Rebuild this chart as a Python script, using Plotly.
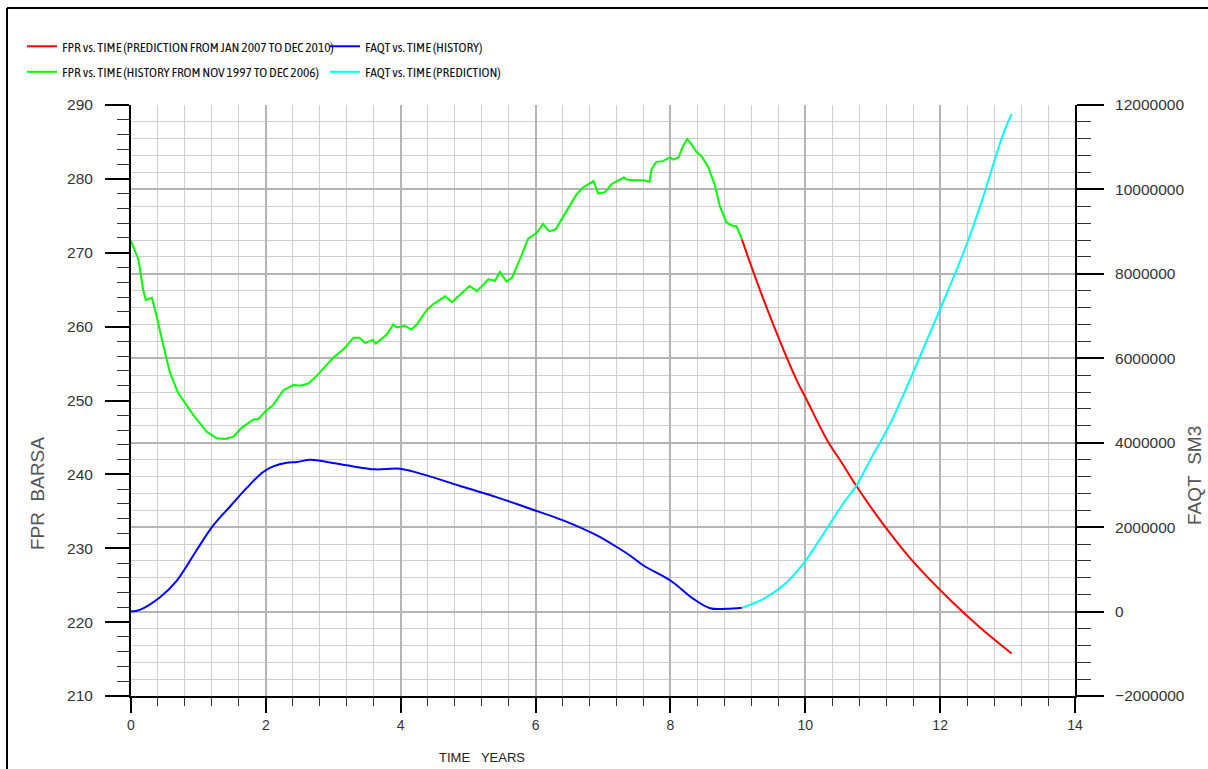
import plotly.graph_objects as go

# ---------------- data ----------------
t_fpr_hist = [0.0, 0.11, 0.18, 0.22, 0.31, 0.38, 0.48, 0.58, 0.70, 0.92, 1.12, 1.27, 1.39, 1.52, 1.64,
              1.81, 1.89, 1.99, 2.11, 2.26, 2.41, 2.51, 2.63, 2.75, 3.00, 3.17, 3.30, 3.39, 3.47, 3.59,
              3.63, 3.79, 3.89, 3.94, 4.06, 4.16, 4.24, 4.39, 4.49, 4.66, 4.76, 4.93, 5.02, 5.13, 5.30,
              5.40, 5.47, 5.57, 5.65, 5.79, 5.89, 6.02, 6.11, 6.20, 6.30, 6.45, 6.60, 6.70, 6.80, 6.86,
              6.93, 7.03, 7.13, 7.31, 7.35, 7.45, 7.60, 7.69, 7.72, 7.79, 7.89, 7.99, 8.04, 8.12, 8.19,
              8.25, 8.31, 8.39, 8.46, 8.56, 8.66, 8.73, 8.83, 8.91, 8.98, 9.06]
fpr_hist = [271.6, 269.1, 265.0, 263.6, 263.9, 261.4, 257.4, 253.7, 251.0, 248.1, 245.8, 244.9, 244.8,
            245.1, 246.3, 247.4, 247.5, 248.5, 249.4, 251.4, 252.1, 252.0, 252.3, 253.3, 255.8, 257.1,
            258.5, 258.5, 257.8, 258.2, 257.7, 258.9, 260.3, 259.9, 260.1, 259.6, 260.3, 262.3, 263.1,
            264.1, 263.3, 264.8, 265.5, 264.8, 266.4, 266.2, 267.4, 266.1, 266.6, 269.6, 271.9, 272.7,
            273.9, 272.9, 273.2, 275.5, 277.8, 278.8, 279.3, 279.7, 278.0, 278.2, 279.3, 280.2, 279.9,
            279.8, 279.8, 279.6, 281.3, 282.3, 282.4, 282.9, 282.6, 282.9, 284.5, 285.4, 284.7, 283.6,
            283.1, 281.6, 279.1, 276.4, 274.1, 273.7, 273.6, 271.8]

t_fpr_pred = [9.06, 9.38, 9.87, 10.02, 10.32, 10.56, 10.76, 11.16, 11.58, 12.15, 12.6, 13.06]
fpr_pred = [271.8, 263.7, 252.8, 250.1, 244.7, 241.3, 238.4, 233.2, 228.4, 223.0, 219.2, 215.75]

t_faqt_hist = [0.0, 0.13, 0.43, 0.68, 0.97, 1.22, 1.47, 1.72, 1.96, 2.11, 2.31, 2.46, 2.65, 2.75, 3.20,
               3.62, 3.99, 4.43, 4.93, 5.42, 5.92, 6.41, 6.91, 7.10, 7.40, 7.60, 8.00, 8.34, 8.59, 8.83, 9.06]
faqt_hist = [0, 40000, 340000, 735000, 1447000, 2040000, 2490000, 2935000, 3305000, 3440000, 3527000,
             3543000, 3599000, 3582000, 3464000, 3369000, 3385000, 3203000, 2949000, 2712000, 2436000,
             2159000, 1803000, 1630000, 1329000, 1091000, 735000, 301000, 78000, 64000, 88000]

t_faqt_pred = [9.06, 9.38, 9.67, 9.97, 10.27, 10.56, 10.76, 10.96, 11.26, 11.55, 11.85, 12.15, 12.39,
               12.64, 12.81, 12.94, 13.06]
faqt_pred = [88000, 301000, 617000, 1132000, 1843000, 2555000, 2989000, 3582000, 4453000, 5480000,
             6600000, 7734000, 8683000, 9829000, 10702000, 11333000, 11791000]

names = ["FPR vs. TIME (PREDICTION FROM JAN 2007 TO DEC 2010)",
         "FPR vs. TIME (HISTORY FROM NOV 1997 TO DEC 2006)",
         "FAQT vs. TIME (HISTORY)",
         "FAQT vs. TIME (PREDICTION)"]

# ---------------- layout geometry ----------------
W, H = 1208, 769
L, R, T, B = 131, 133, 105, 73
PW, PH = W - L - R, H - T - B


def px(xp):
    return (xp - L) / PW


def py(yp):
    return (H - B - yp) / PH


NB = "\u00a0"
LEG_FONT = dict(family="Asap Condensed, Liberation Sans Narrow, Arial Narrow, sans-serif",
                size=13.5, color="#111111")
TICK_FONT = dict(family="Liberation Sans, Arial, sans-serif", size=15.5, color="#333333")

fig = go.Figure()
fig.add_trace(go.Scatter(x=t_fpr_pred, y=fpr_pred, name=names[0], mode="lines",
                         line=dict(color="#ff0000", width=2, shape="spline"),
                         legend="legend", legendgroup="a", legendrank=1))
fig.add_trace(go.Scatter(x=t_fpr_hist, y=fpr_hist, name=names[1], mode="lines",
                         line=dict(color="#00ff00", width=2),
                         legend="legend", legendgroup="b", legendrank=2))
fig.add_trace(go.Scatter(x=t_faqt_hist, y=faqt_hist, name=names[2], mode="lines", yaxis="y2",
                         line=dict(color="#0000ff", width=2, shape="spline"),
                         legend="legend2", legendgroup="c", legendrank=1))
fig.add_trace(go.Scatter(x=t_faqt_pred, y=faqt_pred, name=names[3], mode="lines", yaxis="y2",
                         line=dict(color="#00ffff", width=2, shape="spline"),
                         legend="legend2", legendgroup="d", legendrank=2))

fig.update_layout(
    width=W, height=H,
    margin=dict(l=L, r=R, t=T, b=B),
    paper_bgcolor="white", plot_bgcolor="white",
    showlegend=True,
    legend=dict(x=px(22), y=py(31), xanchor="left", yanchor="top", orientation="v",
                font=LEG_FONT, bgcolor="rgba(0,0,0,0)", tracegroupgap=5, traceorder="grouped"),
    legend2=dict(x=px(325), y=py(31), xanchor="left", yanchor="top", orientation="v",
                 font=LEG_FONT, bgcolor="rgba(0,0,0,0)", tracegroupgap=5, traceorder="grouped"),
    xaxis=dict(range=[0, 14], dtick=2, tick0=0, ticks="outside", ticklen=15, tickwidth=2,
               tickcolor="black", showline=True, linecolor="black", linewidth=2,
               showgrid=True, gridcolor="#b4b4b4", gridwidth=1.5, zeroline=False,
               tickfont=dict(family="Liberation Sans, Arial", size=14, color="#333333"),
               minor=dict(dtick=0.4, tick0=0, ticks="outside", ticklen=8, tickwidth=1,
                          tickcolor="#333333", showgrid=True, gridcolor="#cfcfcf", gridwidth=1)),
    yaxis=dict(range=[210, 290], dtick=10, ticks="outside", ticklen=24, tickwidth=2,
               tickcolor="black", showline=True, linecolor="black", linewidth=2,
               showgrid=False, zeroline=False, tickfont=TICK_FONT, ticklabelstandoff=9,
               minor=dict(dtick=2, ticks="outside", ticklen=12, tickwidth=1,
                          tickcolor="#333333", showgrid=False)),
    yaxis2=dict(range=[-2000000, 12000000], dtick=2000000, overlaying="y", side="right",
                tickformat="d", ticks="outside", ticklen=27, tickwidth=2, tickcolor="black",
                showline=True, linecolor="black", linewidth=2,
                showgrid=True, gridcolor="#b4b4b4", gridwidth=1.5, zeroline=False,
                tickfont=TICK_FONT, ticklabelstandoff=8,
                minor=dict(dtick=400000, ticks="outside", ticklen=14, tickwidth=1,
                           tickcolor="#333333", showgrid=True, gridcolor="#cfcfcf", gridwidth=1)),
)

fig.add_annotation(text="FPR" + NB * 2 + "BARSA", x=px(37), y=py(494), xref="paper", yref="paper",
                   xanchor="center", yanchor="middle", textangle=-90, showarrow=False,
                   font=dict(family="Liberation Sans, Arial", size=19, color="#555555"))
fig.add_annotation(text="FAQT" + NB * 2 + "SM3", x=px(1195), y=py(476), xref="paper", yref="paper",
                   xanchor="center", yanchor="middle", textangle=-90, showarrow=False,
                   font=dict(family="Liberation Sans, Arial", size=19, color="#555555"))
fig.add_annotation(text="TIME" + NB * 3 + "YEARS", x=px(482), y=py(757), xref="paper", yref="paper",
                   xanchor="center", yanchor="middle", showarrow=False,
                   font=dict(family="Liberation Sans, Arial", size=13, color="#222222"))

# outer frame (top and left edges)
fig.add_shape(type="line", xref="paper", yref="paper", x0=px(7), y0=py(8), x1=px(1210), y1=py(8),
              line=dict(color="black", width=2))
fig.add_shape(type="line", xref="paper", yref="paper", x0=px(7), y0=py(8), x1=px(7), y1=py(771),
              line=dict(color="black", width=2))

fig.write_html("out.html")
